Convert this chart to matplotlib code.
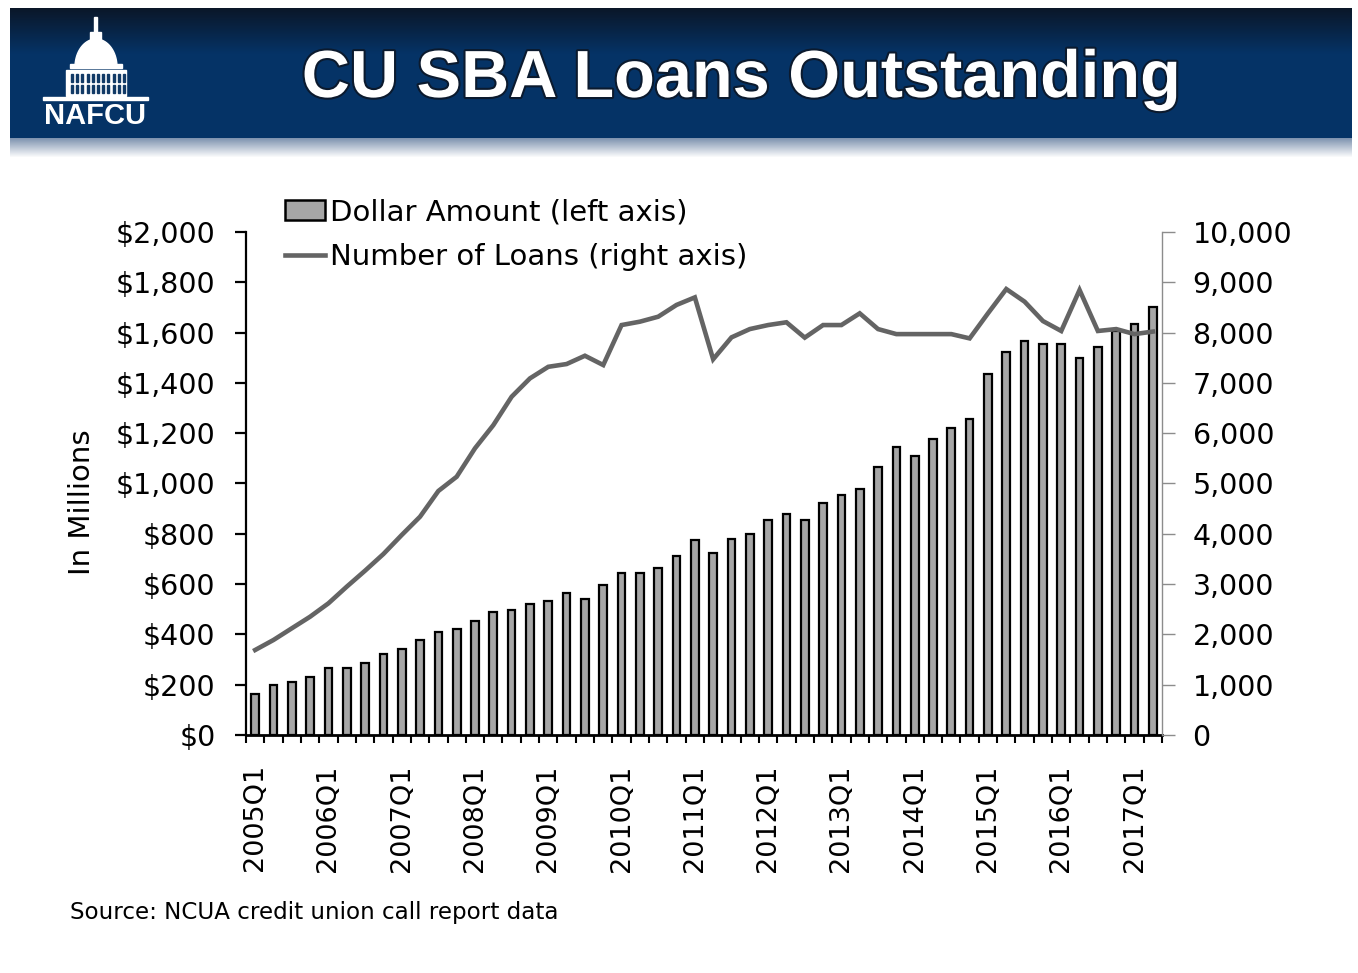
import numpy as np
import matplotlib.pyplot as plt
import matplotlib.patheffects as pe
from matplotlib.patches import Rectangle, Polygon
from matplotlib.lines import Line2D
from matplotlib.ticker import MultipleLocator, FuncFormatter, FixedLocator

# --- data -------------------------------------------------------------------
quarters = [f"{y}Q{q}" for y in range(2005, 2018) for q in range(1, 5)][:50]
dollars = [165, 200, 210, 232, 265, 265, 288, 321, 342, 378,
           410, 420, 455, 488, 498, 521, 532, 565, 542, 598,
           643, 643, 665, 710, 777, 722, 778, 799, 855, 877,
           855, 922, 954, 977, 1066, 1144, 1111, 1177, 1222, 1255,
           1434, 1523, 1567, 1556, 1556, 1500, 1544, 1606, 1634, 1700]
loans = [1690, 1889, 2121, 2352, 2618, 2949, 3267, 3598, 3976, 4340,
         4851, 5135, 5700, 6160, 6725, 7090, 7320, 7375, 7540, 7355,
         8150, 8217, 8316, 8550, 8700, 7470, 7905, 8070, 8150, 8205,
         7900, 8150, 8150, 8383, 8070, 7970, 7970, 7970, 7970, 7885,
         8383, 8866, 8615, 8230, 8032, 8847, 8032, 8070, 7970, 8020]
tick_labels = [q for q in quarters if q.endswith("Q1")]

W, H = 1358, 973
fig = plt.figure(figsize=(W / 100, H / 100), dpi=100)

# --- header band (pixel coordinates) ----------------------------------------
bg = fig.add_axes([0, 0, 1, 1], zorder=0)
bg.set_xlim(0, W)
bg.set_ylim(H, 0)
bg.axis("off")

t = np.linspace(0, 1, 130)[:, None]
dark = np.array([0.04, 0.09, 0.16])
navy = np.array([0.02, 0.20, 0.40])
k = np.clip(t / 0.35, 0, 1)
band = (dark * (1 - k) + navy * k)[:, None, :]
bg.imshow(band, extent=(10, 1352, 138, 8), aspect="auto", zorder=1)
s = np.linspace(0, 1, 20)[:, None]
shade = (np.array([0.50, 0.58, 0.69]) * (1 - s) + np.array([1, 1, 1]) * s)[:, None, :]
bg.imshow(shade, extent=(10, 1352, 158, 138), aspect="auto", zorder=1)

# logo (simplified capitol dome)
wc = "white"
bg.add_patch(Rectangle((94, 17), 3, 20, color=wc, zorder=2))
bg.add_patch(Rectangle((90, 32), 11, 10, color=wc, zorder=2))
th = np.linspace(0, np.pi, 40)
bg.add_patch(Polygon(np.c_[96 + 21 * np.cos(th), 67 - 28 * np.sin(th)],
                     color=wc, zorder=2))
bg.add_patch(Rectangle((70, 64), 52, 4, color=wc, zorder=2))
bg.add_patch(Rectangle((66, 70), 60, 26, color=wc, zorder=2))
for xc in np.arange(71, 124, 5.2):
    bg.add_patch(Rectangle((xc, 74), 2, 8, color="#123a66", zorder=3))
    bg.add_patch(Rectangle((xc, 85), 2, 8, color="#123a66", zorder=3))
bg.add_patch(Rectangle((43, 97), 105, 3, color=wc, zorder=2))
bg.text(95, 116, "NAFCU", color=wc, fontsize=21, fontweight="bold",
        family="Liberation Sans", ha="center", va="center", zorder=3)

bg.text(741, 80, "CU SBA Loans Outstanding", color="white", fontsize=48,
        fontweight="bold", family="Liberation Sans", ha="center", va="center",
        zorder=3, path_effects=[pe.withStroke(linewidth=3, foreground="#0b1a2e")])

# --- chart ------------------------------------------------------------------
x = np.arange(len(quarters))
ax = fig.add_axes([246 / W, 1 - 735 / H, (1162 - 246) / W, (735 - 232) / H], zorder=2)
ax.patch.set_alpha(0)
ax.bar(x, dollars, width=0.42, color="#a6a6a6", edgecolor="black", linewidth=1.6)
ax.set_xlim(-0.5, len(quarters) - 0.5)
ax.set_ylim(0, 2000)
ax.yaxis.set_major_locator(MultipleLocator(200))
ax.yaxis.set_major_formatter(FuncFormatter(lambda v, _: f"${v:,.0f}"))
for sp in ("top", "right"):
    ax.spines[sp].set_visible(False)
ax.spines["left"].set_linewidth(1.6)
ax.spines["bottom"].set_linewidth(2)
ax.tick_params(axis="y", direction="out", length=8, width=1.6, pad=14,
               labelsize=20.5)
ax.xaxis.set_major_locator(FixedLocator([i for i, q in enumerate(quarters) if q.endswith("Q1")]))
ax.set_xticklabels(tick_labels, rotation=90, fontsize=19.5)
ax.xaxis.set_minor_locator(FixedLocator(np.arange(-0.5, len(quarters), 1)))
ax.tick_params(axis="x", which="major", length=0, pad=21)
ax.tick_params(axis="x", which="minor", length=6, width=1.5)

ax2 = ax.twinx()
ax2.plot(x, loans, color="#646464", lw=3.3, solid_joinstyle="miter")
ax2.set_ylim(0, 10000)
ax2.yaxis.set_major_locator(MultipleLocator(1000))
ax2.yaxis.set_major_formatter(FuncFormatter(lambda v, _: f"{v:,.0f}"))
for sp in ("top", "left", "bottom"):
    ax2.spines[sp].set_visible(False)
ax2.spines["right"].set_color("#8c8c8c")
ax2.spines["right"].set_linewidth(1)
ax2.tick_params(axis="y", direction="out", length=9, width=1, color="#8c8c8c",
                pad=13, labelsize=20.5)

handles = [Rectangle((0, 0), 1, 1, facecolor="#a6a6a6", edgecolor="black", lw=1.8),
           Line2D([], [], color="#646464", lw=3.3)]
ax2.legend(handles, ["Dollar Amount (left axis)", "Number of Loans (right axis)"],
           loc="upper left", bbox_to_anchor=(285 / W, 1 - 198 / H),
           bbox_transform=fig.transFigure, frameon=False, fontsize=21,
           borderpad=0, borderaxespad=0, handlelength=1.38, handletextpad=0.15,
           labelspacing=0.58)

fig.text(82 / W, 1 - 502 / H, "In Millions", rotation=90, ha="center",
         va="center", fontsize=21)
fig.text(70 / W, 1 - 912 / H, "Source: NCUA credit union call report data",
         ha="left", va="center", fontsize=16.6)

fig.savefig("out.png", dpi=100)
